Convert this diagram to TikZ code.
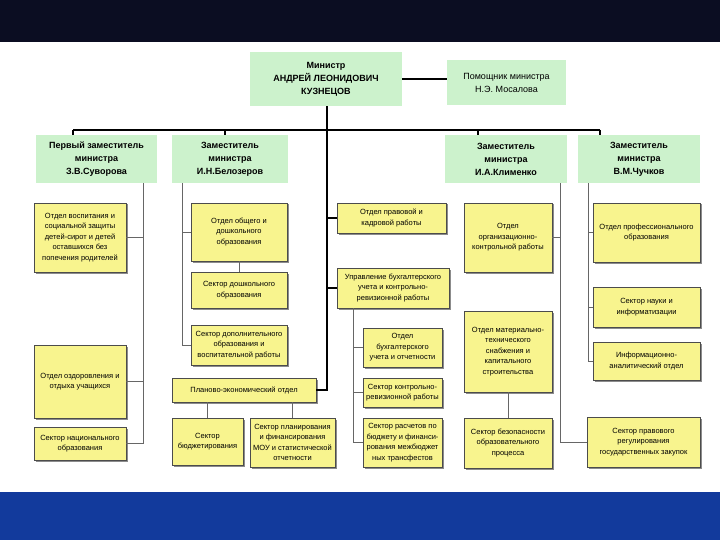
\documentclass[tikz,border=0pt]{standalone}
\usepackage{fontspec}
\setmainfont{Liberation Sans}
\usetikzlibrary{shadows}
\definecolor{topband}{HTML}{0B0D22}
\definecolor{botband}{HTML}{123A9C}
\definecolor{gboxc}{HTML}{CCF2CC}
\definecolor{yboxc}{HTML}{F8F48E}
\begin{document}
\begin{tikzpicture}[x=1pt,y=-1pt,
  gnode/.style={fill=gboxc, inner sep=0pt, align=center, font=\fontsize{9}{13}\selectfont\bfseries},
  ynode/.style={fill=yboxc, draw=black!70, line width=0.5pt, inner sep=0pt, align=center,
     font=\fontsize{7.5}{10.5}\selectfont,
     drop shadow={shadow xshift=1.5pt,shadow yshift=-1.5pt,fill=black!45,opacity=1}},
  mainline/.style={line width=1.3pt, black},
  subline/.style={line width=0.7pt, black!60}]
\useasboundingbox (0,0) rectangle (720,540);
\fill[white] (0,0) rectangle (720,540);
\fill[topband] (0,0) rectangle (720,42);
\fill[botband] (0,492) rectangle (720,540);

% minister and assistant
\node[gnode, minimum width=152pt, minimum height=54pt] (min) at (326,79) {Министр\\АНДРЕЙ ЛЕОНИДОВИЧ\\КУЗНЕЦОВ};
\node[gnode, font=\fontsize{9}{13}\selectfont, minimum width=119pt, minimum height=45pt] (asst) at (506.5,82.5) {Помощник министра\\Н.Э. Мосалова};

% deputies
\node[gnode, minimum width=121pt, minimum height=48pt] (d1) at (96.5,159) {Первый заместитель\\министра\\З.В.Суворова};
\node[gnode, minimum width=116pt, minimum height=48pt] (d2) at (230,159) {Заместитель\\министра\\И.Н.Белозеров};
\node[gnode, minimum width=122pt, minimum height=48pt] (d3) at (506,159) {Заместитель\\министра\\И.А.Клименко};
\node[gnode, minimum width=122pt, minimum height=48pt] (d4) at (639,159) {Заместитель\\министра\\В.М.Чучков};

% column 1
\node[ynode, minimum width=92pt, minimum height=69pt] (vosp) at (80,237.5) {Отдел воспитания и\\социальной защиты\\детей-сирот и детей\\оставшихся без\\попечения родителей};
\node[ynode, minimum width=92pt, minimum height=73pt] (ozdor) at (80,381.5) {Отдел оздоровления и\\отдыха учащихся};
\node[ynode, minimum width=92pt, minimum height=33pt] (nacion) at (80,443.5) {Сектор национального\\образования};

% column 2
\node[ynode, minimum width=96pt, minimum height=58pt] (obsh) at (239,232) {Отдел общего и\\дошкольного\\образования};
\node[ynode, minimum width=96pt, minimum height=36pt] (dosh) at (239,290) {Сектор дошкольного\\образования};
\node[ynode, minimum width=96pt, minimum height=40pt] (dopol) at (239,345) {Сектор дополнительного\\образования и\\воспитательной работы};
\node[ynode, minimum width=144pt, minimum height=24pt] (plan) at (244,390) {Планово-экономический отдел};
\node[ynode, minimum width=71pt, minimum height=47pt] (budg) at (207.5,441.5) {Сектор\\бюджетирования};
\node[ynode, minimum width=85pt, minimum height=49pt] (planir) at (292.5,442.5) {Сектор планирования\\и финансирования\\МОУ и статистической\\отчетности};

% central column
\node[ynode, minimum width=109pt, minimum height=30pt] (pravo) at (391.5,218) {Отдел правовой и\\кадровой работы};
\node[ynode, minimum width=112pt, minimum height=40pt] (uprav) at (393,288) {Управление бухгалтерского\\учета и контрольно-\\ревизионной работы};
\node[ynode, minimum width=79pt, minimum height=39pt] (buh) at (402.5,347.5) {Отдел\\бухгалтерского\\учета и отчетности};
\node[ynode, minimum width=79pt, minimum height=29pt] (kontr) at (402.5,392.5) {Сектор контрольно-\\ревизионной работы};
\node[ynode, minimum width=79pt, minimum height=49pt] (rasch) at (402.5,442.5) {Сектор расчетов по\\бюджету и финанси-\\рования межбюджет\\ных трансфестов};

% column 4
\node[ynode, minimum width=88pt, minimum height=69pt] (org) at (508,237.5) {Отдел\\организационно-\\контрольной работы};
\node[ynode, minimum width=88pt, minimum height=81pt] (mater) at (508,351.5) {Отдел материально-\\технического\\снабжения и\\капитального\\строительства};
\node[ynode, minimum width=88pt, minimum height=50pt] (bezop) at (508,443) {Сектор безопасности\\образовательного\\процесса};

% column 5
\node[ynode, minimum width=107pt, minimum height=59pt] (prof) at (646.5,232.5) {Отдел профессионального\\образования};
\node[ynode, minimum width=107pt, minimum height=40pt] (nauka) at (646.5,307) {Сектор науки и\\информатизации};
\node[ynode, minimum width=107pt, minimum height=38pt] (inform) at (646.5,361) {Информационно-\\аналитический отдел};
\node[ynode, minimum width=113pt, minimum height=50pt] (pravreg) at (643.5,442) {Сектор правового\\регулирования\\государственных закупок};

% bus and drops
\coordinate (b1) at (73,130);
\coordinate (b2) at (225,130);
\coordinate (bc) at (327,130);
\coordinate (b3) at (478,130);
\coordinate (b4) at (600,130);
\coordinate (cend) at (327,390);
\draw[mainline] (b1) -- (b4);
\draw[mainline] (b1) -- (b1 |- d1.north);
\draw[mainline] (b2) -- (b2 |- d2.north);
\draw[mainline] (b3) -- (b3 |- d3.north);
\draw[mainline] (b4) -- (b4 |- d4.north);
\draw[mainline] (min.east) -- (min.east -| asst.west);
\draw[mainline] (min.south -| bc) -- (cend) -- (plan.east);
\draw[mainline] (pravo.west -| bc) -- (pravo.west);
\draw[mainline] (uprav.west -| bc) -- (uprav.west);

% spines
\coordinate (s1) at (143,0);
\coordinate (s2) at (182,0);
\coordinate (s3) at (560,0);
\coordinate (s4) at (588,0);
\coordinate (s5) at (353,0);
\draw[subline] (d1.south -| s1) -- (nacion.east -| s1) -- (nacion.east);
\draw[subline] (vosp.east) -- (vosp.east -| s1);
\draw[subline] (ozdor.east) -- (ozdor.east -| s1);

\draw[subline] (d2.south -| s2) -- (dopol.west -| s2) -- (dopol.west);
\draw[subline] (obsh.west) -- (obsh.west -| s2);
\draw[subline] (obsh.south) -- (dosh.north);

\draw[subline] (uprav.south -| s5) -- (rasch.west -| s5) -- (rasch.west);
\draw[subline] (buh.west) -- (buh.west -| s5);
\draw[subline] (kontr.west) -- (kontr.west -| s5);

\draw[subline] (budg.north |- plan.south) -- (budg.north);
\draw[subline] (planir.north |- plan.south) -- (planir.north);

\draw[subline] (d3.south -| s3) -- (pravreg.west -| s3) -- (pravreg.west);
\draw[subline] (org.east) -- (org.east -| s3);
\draw[subline] (mater.south) -- (bezop.north);

\draw[subline] (d4.south -| s4) -- (inform.west -| s4) -- (inform.west);
\draw[subline] (prof.west) -- (prof.west -| s4);
\draw[subline] (nauka.west) -- (nauka.west -| s4);
\end{tikzpicture}
\end{document}
